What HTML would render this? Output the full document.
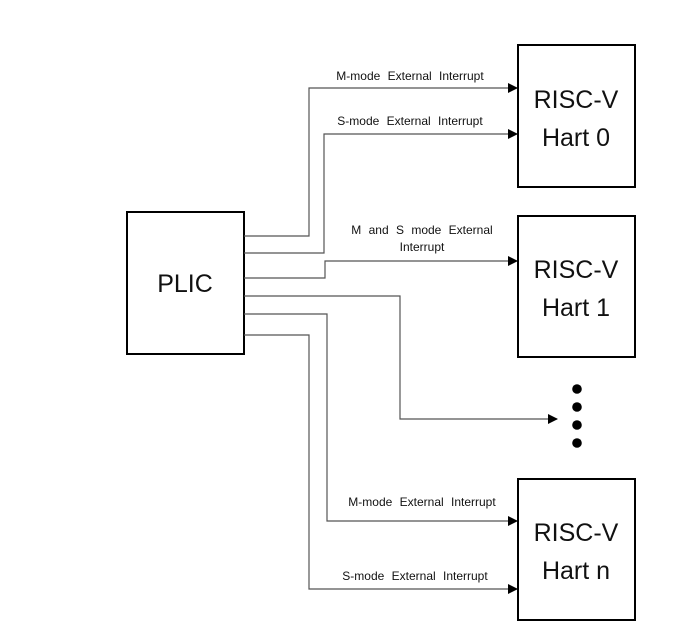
<!DOCTYPE html>
<html><head><style>body{margin:0;background:#fff}</style></head><body>
<svg width="683" height="632" xmlns="http://www.w3.org/2000/svg" font-family="Liberation Sans, sans-serif">
<defs><marker id="a" markerWidth="10" markerHeight="10" refX="9" refY="5" orient="auto" markerUnits="userSpaceOnUse"><path d="M0,0 L10,5 L0,10 z" fill="#000"/></marker></defs>
<g fill="none" stroke="#000" stroke-width="2">
<rect x="127" y="212" width="117" height="142"/>
<rect x="518" y="45" width="117" height="142"/>
<rect x="518" y="216" width="117" height="141"/>
<rect x="518" y="479" width="117" height="141"/>
</g>
<g fill="none" stroke="#555" stroke-width="1.2">
<polyline points="244,236 309,236 309,88 517,88" marker-end="url(#a)"/>
<polyline points="244,253 324,253 324,134 517,134" marker-end="url(#a)"/>
<polyline points="244,278 325,278 325,261 517,261" marker-end="url(#a)"/>
<polyline points="244,296 400,296 400,419 557,419" marker-end="url(#a)"/>
<polyline points="244,314 327,314 327,521 517,521" marker-end="url(#a)"/>
<polyline points="244,335 309,335 309,589 517,589" marker-end="url(#a)"/>
</g>
<g fill="#000"><circle cx="577" cy="389" r="4.8"/><circle cx="577" cy="407" r="4.8"/><circle cx="577" cy="425" r="4.8"/><circle cx="577" cy="443" r="4.8"/></g>
<g font-size="12" text-anchor="middle" fill="#111" word-spacing="4">
<text x="410" y="80">M-mode External Interrupt</text>
<text x="410" y="125">S-mode External Interrupt</text>
<text x="422" y="234">M and S mode External</text>
<text x="422" y="251">Interrupt</text>
<text x="422" y="506">M-mode External Interrupt</text>
<text x="415" y="580">S-mode External Interrupt</text>
</g>
<g font-size="25" text-anchor="middle" fill="#111">
<text x="576" y="108">RISC-V</text><text x="576" y="146">Hart 0</text>
<text x="576" y="278">RISC-V</text><text x="576" y="316">Hart 1</text>
<text x="576" y="541">RISC-V</text><text x="576" y="579">Hart n</text>
<text x="185" y="292">PLIC</text>
</g>
</svg>
</body></html>
